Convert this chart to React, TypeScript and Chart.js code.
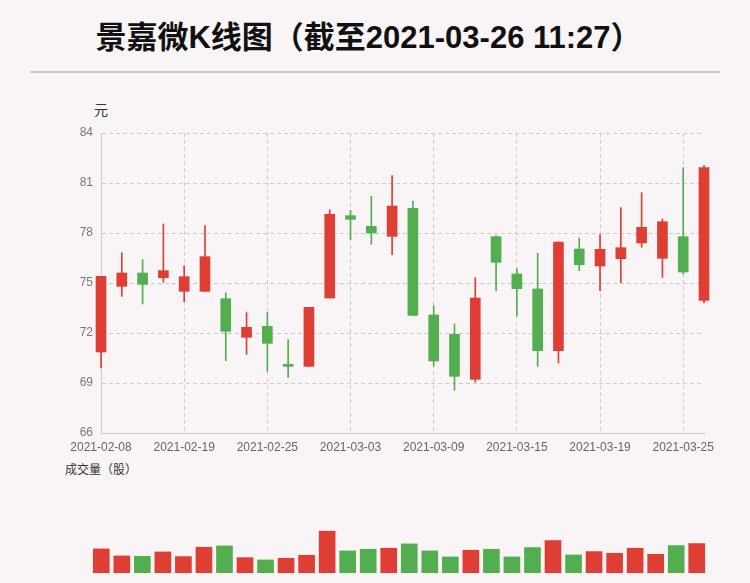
import React, { useEffect, useRef } from "react";
import { Chart, registerables } from "chart.js";

Chart.register(...registerables);

const dates = [
  "2021-02-08", "2021-02-09", "2021-02-10", "2021-02-18", "2021-02-19",
  "2021-02-22", "2021-02-23", "2021-02-24", "2021-02-25", "2021-02-26",
  "2021-03-01", "2021-03-02", "2021-03-03", "2021-03-04", "2021-03-05",
  "2021-03-08", "2021-03-09", "2021-03-10", "2021-03-11", "2021-03-12",
  "2021-03-15", "2021-03-16", "2021-03-17", "2021-03-18", "2021-03-19",
  "2021-03-22", "2021-03-23", "2021-03-24", "2021-03-25", "2021-03-26",
];
const openPrices = [70.86, 74.8, 75.6, 75.32, 74.5, 74.5, 74.06, 71.74, 72.4, 70.0, 70.0, 74.1, 79.04, 78.4, 77.8, 79.48, 73.08, 71.92, 69.22, 77.78, 75.54, 74.64, 70.94, 77.04, 76.02, 76.46, 77.4, 76.48, 77.78, 73.96];
const closePrices = [75.4, 75.6, 74.92, 75.74, 75.38, 76.58, 72.1, 72.34, 71.38, 70.0, 73.54, 79.12, 78.82, 78.0, 79.62, 73.06, 70.32, 69.4, 74.1, 76.24, 74.66, 70.94, 77.46, 76.1, 77.02, 77.12, 78.34, 78.68, 75.66, 81.92];
const lowPrices = [69.9, 74.2, 73.74, 75.04, 73.88, 74.5, 70.34, 70.72, 69.7, 69.34, 70.0, 74.1, 77.6, 77.32, 76.7, 73.06, 70.0, 68.56, 69.06, 74.52, 73.02, 70.0, 70.2, 75.74, 74.54, 75.02, 77.14, 75.34, 75.54, 73.8];
const highPrices = [75.4, 76.82, 76.4, 78.54, 76.04, 78.44, 74.42, 73.22, 73.24, 71.6, 73.54, 79.4, 79.36, 80.2, 81.44, 79.92, 73.64, 72.54, 75.32, 77.84, 75.86, 76.78, 77.46, 77.7, 77.9, 79.52, 80.42, 78.84, 81.92, 82.04];
const volumes = [7200000, 5100000, 5000000, 6300000, 4900000, 7700000, 8100000, 4600000, 3900000, 4400000, 5300000, 12500000, 6600000, 7100000, 7400000, 8700000, 6600000, 4800000, 6800000, 7100000, 4800000, 7600000, 9700000, 5400000, 6400000, 5900000, 7400000, 5600000, 8200000, 8800000];
const yTickMin = 66;
const yTickMax = 84;
const yTickStep = 3;

const RED = "#df3e35";
const GREEN = "#52ae4f";
const BG = "#f9f5f6";
const GRID = "#cccccc";
const FONT = '"Liberation Sans", "Noto Sans CJK SC", sans-serif';

function candleColor(i: number) {
  const o = openPrices[i];
  const c = closePrices[i];
  if (c > o) return RED;
  if (c < o) return GREEN;
  const prev = i > 0 ? closePrices[i - 1] : o;
  return c > prev ? RED : GREEN;
}
function volumeColor(i: number) {
  return closePrices[i] >= openPrices[i] ? RED : GREEN;
}

export default function App() {
  const priceRef = useRef<HTMLCanvasElement>(null);
  const volRef = useRef<HTMLCanvasElement>(null);

  useEffect(() => {
    document.body.style.margin = "0";
    document.body.style.background = BG;
    Chart.defaults.font.family = FONT;

    const candleColors = dates.map((_, i) => candleColor(i));
    const priceChart = new Chart(priceRef.current!, {
      type: "bar",
      data: {
        labels: dates,
        datasets: [
          {
            label: "body",
            data: dates.map((_, i) => [openPrices[i], closePrices[i]]) as any,
            backgroundColor: candleColors,
            barThickness: 10,
            minBarLength: 2,
            grouped: false,
            clip: false as any,
          } as any,
          {
            label: "wick",
            data: dates.map((_, i) => [lowPrices[i], highPrices[i]]) as any,
            backgroundColor: candleColors,
            barThickness: 1,
            grouped: false,
            clip: false as any,
          } as any,
        ],
      },
      options: {
        animation: false,
        responsive: false,
        maintainAspectRatio: false,
        layout: { padding: { top: 133, right: 46, left: 0, bottom: 0 } },
        plugins: { legend: { display: false }, tooltip: { enabled: false } },
        scales: {
          x: {
            offset: false,
            afterBuildTicks: (scale: any) => {
              scale.ticks = scale.ticks.filter((_: any, i: number) => i % 4 === 0);
            },
            afterFit: (scale: any) => {
              scale.height = 37;
            },
            grid: { color: GRID, drawTicks: false, lineWidth: 1, offset: false },
            border: { color: GRID, dash: [4, 3], width: 1 },
            ticks: {
              autoSkip: false,
              maxRotation: 0,
              padding: 7,
              color: "#666666",
              font: { size: 12, family: FONT },
            },
          },
          y: {
            min: yTickMin,
            max: yTickMax,
            afterFit: (scale: any) => {
              scale.width = 101;
            },
            grid: { color: GRID, drawTicks: false, lineWidth: 1 },
            border: { color: GRID, dash: [4, 3], width: 1 },
            ticks: {
              stepSize: yTickStep,
              padding: 8,
              color: "#777777",
              font: { size: 12, family: FONT },
            },
          },
        },
      },
    });

    const volChart = new Chart(volRef.current!, {
      type: "bar",
      data: {
        labels: dates,
        datasets: [
          {
            label: "成交量",
            data: volumes,
            backgroundColor: dates.map((_, i) => volumeColor(i)),
            barThickness: 16,
          },
        ],
      },
      options: {
        animation: false,
        responsive: false,
        maintainAspectRatio: false,
        layout: { padding: { top: 0, right: 43, left: 91, bottom: 10 } },
        plugins: { legend: { display: false }, tooltip: { enabled: false } },
        scales: {
          x: { display: false, offset: true },
          y: { display: false, min: 0, max: 27800000 },
        },
      },
    });

    return () => {
      priceChart.destroy();
      volChart.destroy();
    };
  }, []);

  return (
    <div style={{ position: "relative", width: 750, height: 583, background: BG, overflow: "hidden" }}>
      <div
        style={{
          position: "absolute",
          left: 0,
          top: 15,
          width: 737,
          textAlign: "center",
          fontFamily: FONT,
          fontWeight: "bold",
          fontSize: 31,
          lineHeight: "46px",
          color: "#111",
        }}
      >
        景嘉微K线图（截至2021-03-26 11:27）
      </div>
      <div style={{ position: "absolute", left: 30, top: 71, width: 690, height: 2, background: "#c8c8c8" }} />
      <div
        style={{
          position: "absolute",
          left: 86,
          top: 101,
          width: 30,
          textAlign: "center",
          fontFamily: FONT,
          fontSize: 14,
          lineHeight: "18px",
          color: "#333",
        }}
      >
        元
      </div>
      <div
        style={{
          position: "absolute",
          left: 65,
          top: 462,
          fontFamily: FONT,
          fontSize: 12,
          lineHeight: "16px",
          color: "#333",
          whiteSpace: "nowrap",
        }}
      >
        成交量（股）
      </div>
      <canvas ref={priceRef} width={750} height={470} style={{ position: "absolute", left: 0, top: 0 }} />
      <canvas ref={volRef} width={750} height={103} style={{ position: "absolute", left: 0, top: 480 }} />
    </div>
  );
}
